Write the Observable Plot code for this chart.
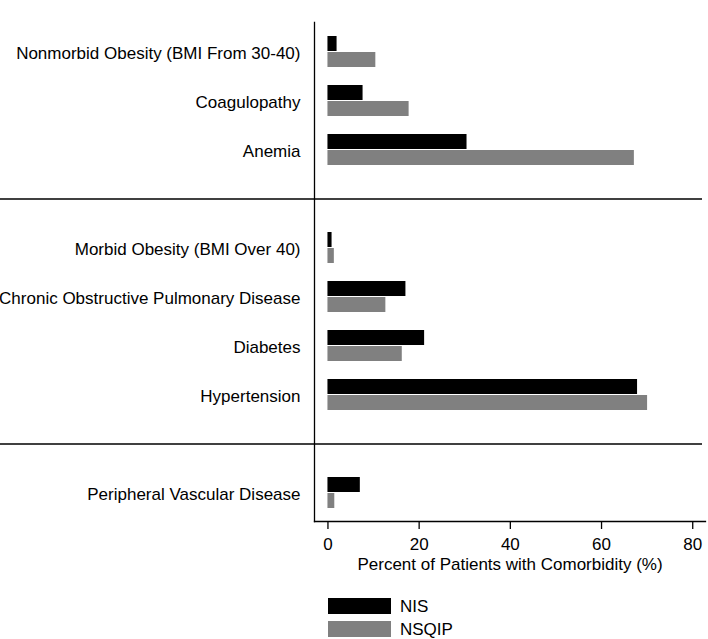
<!DOCTYPE html>
<html>
<head>
<meta charset="utf-8">
<script src="https://cdn.jsdelivr.net/npm/d3@7"></script>
<script src="https://cdn.jsdelivr.net/npm/@observablehq/plot@0.6"></script>
<style>
  html, body { margin: 0; padding: 0; background: #fff; overflow: hidden; }
  body { width: 708px; font-family: "Liberation Sans", Arial, sans-serif; }
  #chart svg { display: block; }
  #legend { margin-left: 328px; margin-top: 5px; }
  .row { display: flex; align-items: center; height: 22.7px; }
  .sw { width: 63px; height: 16px; margin-right: 9px; }
  .lab { font-size: 17px; line-height: 1; color: #000; }
</style>
</head>
<body>
<div id="chart"></div>
<div id="legend"></div>
<script>
const categories = [
  "Nonmorbid Obesity (BMI From 30-40)",
  "Coagulopathy",
  "Anemia",
  "Morbid Obesity (BMI Over 40)",
  "Chronic Obstructive Pulmonary Disease",
  "Diabetes",
  "Hypertension",
  "Peripheral Vascular Disease"
];
const groups = [1, 1, 1, 2, 2, 2, 2, 3];
const nisValues = [2.0, 7.7, 30.5, 0.9, 17.1, 21.2, 67.9, 7.1];
const nsqipValues = [10.5, 17.8, 67.2, 1.4, 12.7, 16.3, 70.1, 1.5];
const seriesNames = ["NIS", "NSQIP"];
const seriesColors = ["#000000", "#808080"];
const xTicks = [0, 20, 40, 60, 80];
const xLabel = "Percent of Patients with Comorbidity (%)";

// y domain with spacer slots between groups
const yDomain = [];
const separators = [];
categories.forEach((c, i) => {
  if (i > 0 && groups[i] !== groups[i - 1]) {
    const key = "gap-" + groups[i];
    yDomain.push(key);
    separators.push(key);
  }
  yDomain.push(c);
});

const nisRows = categories.map((c, i) => ({category: c, value: nisValues[i]}));
const nsqipRows = categories.map((c, i) => ({category: c, value: nsqipValues[i]}));

const chart = Plot.plot({
  width: 708,
  height: 590,
  marginTop: 22,
  marginBottom: 69,
  marginLeft: 314,
  marginRight: 3,
  style: {fontFamily: '"Liberation Sans", Arial, sans-serif', fontSize: "17px", color: "#000", background: "#fff"},
  x: {domain: [-2.95, 82.8]},
  y: {domain: yDomain, paddingInner: 0.37, paddingOuter: 0.255, axis: null},
  marks: [
    Plot.barX(nisRows, {x: "value", y: "category", fill: seriesColors[0], insetBottom: 16}),
    Plot.barX(nsqipRows, {x: "value", y: "category", fill: seriesColors[1], insetTop: 16}),
    Plot.ruleY(separators, {stroke: "#000", strokeWidth: 1.3, insetLeft: -314, insetRight: 3}),
    Plot.frame({anchor: "left", stroke: "#000", strokeWidth: 1.3}),
    Plot.frame({anchor: "bottom", stroke: "#000", strokeWidth: 1.3}),
    Plot.axisX(xTicks, {tickSize: 8, tickPadding: 8, fontSize: 17, strokeWidth: 1.3,
      label: xLabel, labelAnchor: "center", labelOffset: 48, labelArrow: "none"}),
    Plot.axisY(categories, {tickSize: 0, tickPadding: 14, fontSize: 17, label: null, dy: 2})
  ]
});
document.getElementById("chart").appendChild(chart);

const legend = document.getElementById("legend");
seriesNames.forEach((name, i) => {
  const row = document.createElement("div");
  row.className = "row";
  const sw = document.createElement("div");
  sw.className = "sw";
  sw.style.background = seriesColors[i];
  const lab = document.createElement("span");
  lab.className = "lab";
  lab.textContent = name;
  row.appendChild(sw);
  row.appendChild(lab);
  legend.appendChild(row);
});
</script>
</body>
</html>
